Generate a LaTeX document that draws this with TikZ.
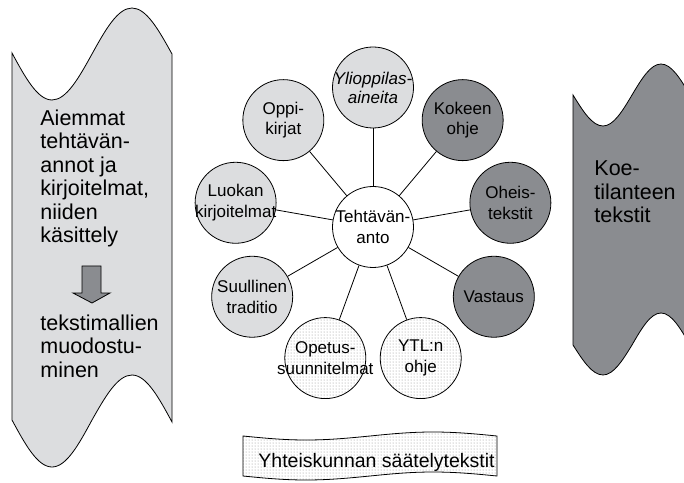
\documentclass[tikz,border=0pt]{standalone}
\usepackage{fontspec}
\setmainfont{Liberation Sans}
\usetikzlibrary{calc,patterns}
\definecolor{lightgrey}{RGB}{220,221,223}
\definecolor{darkgrey}{RGB}{138,140,144}
\tikzset{
ball/.style={circle, draw, minimum size=81pt, inner sep=0pt},
lbl/.style={align=center, font=\fontsize{17}{20.5}\selectfont},
big/.style={align=left, font=\fontsize{21.5}{23.5}\selectfont, inner sep=0pt},
dotty/.style={pattern=dots, pattern color=black!45}
}
\begin{document}
\begin{tikzpicture}[x=1pt, y=1pt, line width=0.8pt]
\clip (0,0) rectangle (684,482);
\fill[white] (0,0) rectangle (684,482);

\draw[fill=lightgrey] (12,429) sin (52,382) cos (92,428) sin (132,474) cos (172,428)
  -- (172,60) sin (132,107) cos (92,62) sin (52,15) cos (12,62) -- cycle;
\draw[fill=darkgrey] (573,387) sin (603,356) cos (632,387) sin (661,418) cos (690,387)
  -- (690,137) sin (661,169) cos (632,137) sin (603,107) cos (573,137) -- cycle;
\draw[dotty] (243,46) sin (306,42) cos (370,46) sin (433,50) cos (497,46)
  -- (497,6) sin (433,10) cos (370,6) sin (306,2) cos (243,6) -- cycle;
\draw[fill=darkgrey] (82,216) -- (101,216) -- (101,189) -- (110,189) -- (92,179)
  -- (73,189) -- (82,189) -- cycle;

\node[big, anchor=base west] (prior) at (40,239)
  {Aiemmat\\tehtävän-\\annot ja\\kirjoitelmat,\\niiden\\käsittely};
\node[big, anchor=base west] (models) at (40,105) {tekstimallien\\muodostu-\\minen};
\node[big, anchor=base west] (exam) at (594,259) {Koe-\\tilanteen\\tekstit};
\node[font=\fontsize{19.5}{22}\selectfont, anchor=base west, inner sep=0pt] (society)
  at (258,15) {Yhteiskunnan säätelytekstit};

\node[ball, fill=white] (task) at (373,255) {};
\node[ball, fill=lightgrey] (yo) at ($(task)+(90:139.5)$) {};
\node[ball, fill=darkgrey] (koe) at ($(task)+(50:139.5)$) {};
\node[ball, fill=darkgrey] (oheis) at ($(task)+(10:139.5)$) {};
\node[ball, fill=darkgrey] (vast) at ($(task)+(-30:139.5)$) {};
\node[ball, dotty] (ytl) at ($(task)+(-70:139.5)$) {};
\node[ball, dotty] (ops) at ($(task)+(-110:139.5)$) {};
\node[ball, fill=lightgrey] (suul) at ($(task)+(-150:139.5)$) {};
\node[ball, fill=lightgrey] (luok) at ($(task)+(170:139.5)$) {};
\node[ball, fill=lightgrey] (oppi) at ($(task)+(130:139.5)$) {};
\foreach \n in {yo,koe,oheis,vast,ytl,ops,suul,luok,oppi}
  \draw (task) -- (\n);

\node[lbl] (task-t) at (task) {Tehtävän-\\anto};
\node[lbl, font=\fontsize{17}{19}\selectfont\itshape] (yo-t) at (yo) {Ylioppilas-\\aineita};
\node[lbl] (koe-t) at (koe) {Kokeen\\ohje};
\node[lbl] (oheis-t) at (oheis) {Oheis-\\tekstit};
\node[lbl] (vast-t) at (vast) {Vastaus};
\node[lbl] (ytl-t) at (ytl) {YTL:n\\ohje};
\node[lbl] (ops-t) at (ops) {Opetus-\\suunnitelmat};
\node[lbl] (suul-t) at (suul) {Suullinen\\traditio};
\node[lbl] (luok-t) at (luok) {Luokan\\kirjoitelmat};
\node[lbl] (oppi-t) at (oppi) {Oppi-\\kirjat};
\end{tikzpicture}
\end{document}
